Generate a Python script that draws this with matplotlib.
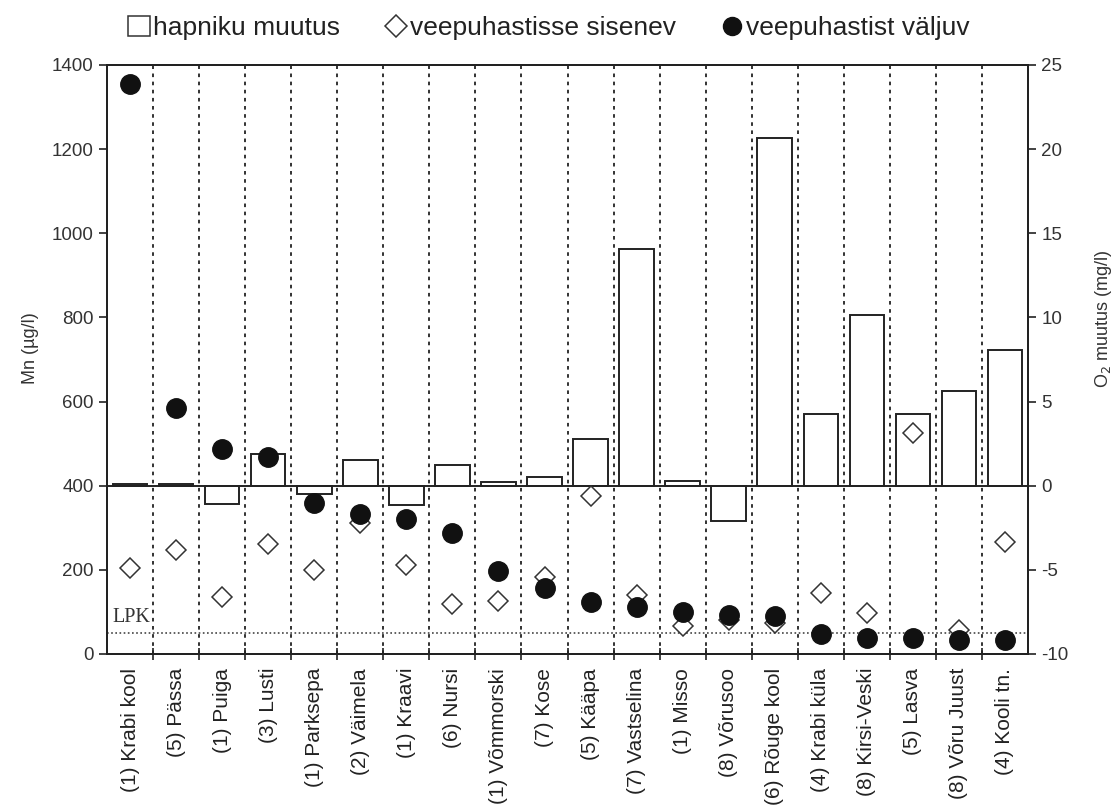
import matplotlib.pyplot as plt
import numpy as np
from matplotlib.lines import Line2D
from matplotlib.patches import Rectangle

plt.rcParams['font.family'] = ['Liberation Sans', 'DejaVu Sans']
plt.rcParams['axes.unicode_minus'] = False

# Veepuhastid (suluis piirkonna number)
kohad = ['(1) Krabi kool', '(5) Pässa', '(1) Puiga', '(3) Lusti', '(1) Parksepa',
         '(2) Väimela', '(1) Kraavi', '(6) Nursi', '(1) Võmmorski', '(7) Kose',
         '(5) Kääpa', '(7) Vastselina', '(1) Misso', '(8) Võrusoo', '(6) Rõuge kool',
         '(4) Krabi küla', '(8) Kirsi-Veski', '(5) Lasva', '(8) Võru Juust', '(4) Kooli tn.']

# O2 muutus (mg/l), parem telg
o2_muutus = [0.1, 0.1, -1.1, 1.9, -0.5, 1.5, -1.15, 1.22, 0.2, 0.53,
             2.8, 14.06, 0.27, -2.08, 20.65, 4.27, 10.14, 4.27, 5.6, 8.07]

# Mn (ug/l) veepuhastisse sisenev ja veepuhastist väljuv vesi
mn_sisse = [204, 246, 136, 261, 200, 312, 211, 118, 127, 184,
            376, 140, 67, 81, 74, 146, 97, 526, 57, 267]
mn_valja = [1354, 584, 487, 469, 358, 332, 322, 287, 198, 156,
            124, 112, 100, 93, 90, 47, 37, 39, 33, 33]

lpk = 50  # Mn piirväärtus

x = np.arange(len(kohad))
joon = '#222222'

fig = plt.figure(figsize=(11.14, 8.07), dpi=100)
ax1 = fig.add_axes([0.0961, 0.1896, 0.8267, 0.7299])
ax2 = ax1.twinx()
ax1.set_zorder(ax2.get_zorder() + 1)
ax1.patch.set_visible(False)

# tulbad: hapniku muutus
ax2.bar(x, o2_muutus, width=0.75, facecolor='white', edgecolor=joon, linewidth=1.4)
ax2.axhline(0, color=joon, linewidth=1.4)
ax2.set_ylim(-10, 25)
ax2.set_yticks(np.arange(-10, 26, 5))

# katkendjooned veepuhastite vahel
for b in x[:-1] + 0.5:
    ax1.axvline(b, color=joon, linewidth=1.3, linestyle=(0, (2, 2.5)), zorder=1)

# LPK joon
ax1.axhline(lpk, color='#444444', linewidth=1.2, linestyle=(0, (1, 1.5)), zorder=1)
ax1.text(-0.38, lpk + 14, 'LPK', family=['Liberation Serif', 'DejaVu Serif'],
         fontsize=14.5, color='#333333', ha='left', va='bottom')

ax1.plot(x, mn_sisse, linestyle='none', marker='D', markersize=10.5,
         markerfacecolor='white', markeredgecolor='#333333', markeredgewidth=1.1, zorder=3)
ax1.plot(x, mn_valja, linestyle='none', marker='o', markersize=14,
         markerfacecolor='#111111', markeredgecolor='#111111', zorder=4)

ax1.set_xlim(-0.5, len(kohad) - 0.5)
ax1.set_ylim(0, 1400)
ax1.set_yticks(np.arange(0, 1401, 200))
ax1.set_xticks(x)
ax1.set_xticklabels(kohad, rotation=90, fontsize=15, color='#222222')
ax1.set_xticks(x[:-1] + 0.5, minor=True)
ax1.tick_params(axis='x', which='major', length=0, pad=10)
ax1.tick_params(axis='x', which='minor', direction='inout', length=8, width=1.2, color=joon)
ax1.tick_params(axis='y', direction='out', length=6, width=1.2, color=joon,
                labelsize=13.5, labelcolor='#333333')
ax2.tick_params(axis='y', direction='out', length=6, width=1.2, color=joon,
                labelsize=13.5, labelcolor='#333333')

for ax in (ax1, ax2):
    for s in ax.spines.values():
        s.set_color(joon)
        s.set_linewidth(1.4)

ax1.set_ylabel('Mn (µg/l)', fontsize=13, color='#333333')
ax1.yaxis.set_label_coords(-0.074, 0.52)
ax2.set_ylabel('O$_2$ muutus (mg/l)', fontsize=13, color='#333333', rotation=90)
ax2.yaxis.set_label_coords(1.071, 0.57)

legend_elems = [
    Rectangle((0, 0), 1, 1, facecolor='white', edgecolor='#333333', linewidth=1.1),
    Line2D([], [], linestyle='none', marker='D', markersize=11,
           markerfacecolor='white', markeredgecolor='#333333', markeredgewidth=1.1),
    Line2D([], [], linestyle='none', marker='o', markersize=13,
           markerfacecolor='#111111', markeredgecolor='#111111'),
]
fig.legend(legend_elems, ['hapniku muutus', 'veepuhastisse sisenev', 'veepuhastist väljuv'],
           loc='center', bbox_to_anchor=(0.493, 0.965), ncol=3, frameon=False,
           fontsize=19, handlelength=0.8, handleheight=0.8, handletextpad=0.15,
           columnspacing=1.7, labelcolor='#222222')

fig.savefig('out.png', dpi=100)
